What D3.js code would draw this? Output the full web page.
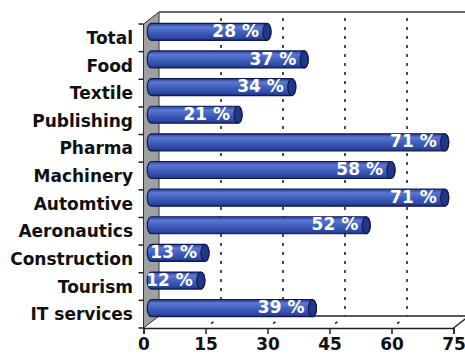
<!DOCTYPE html>
<html>
<head>
<meta charset="utf-8">
<script src="https://cdn.jsdelivr.net/npm/d3@7"></script>
<style>
  body { margin: 0; background: #fff; }
  svg text { font-family: "DejaVu Sans", Verdana, sans-serif; font-weight: bold; }
</style>
</head>
<body>
<script>
// data
var categories = ["Total", "Food", "Textile", "Publishing", "Pharma", "Machinery",
                  "Automtive", "Aeronautics", "Construction", "Tourism", "IT services"];
var shares = [28, 37, 34, 21, 71, 58, 71, 52, 13, 12, 39];
var tickValues = [0, 15, 30, 45, 60, 75];
var gridValues = [15, 30, 45, 60];

var w = 465, h = 356;
// 3d depth offset (front -> back)
var dx = 15.5, dy = -12;

var svg = d3.select("body").append("svg")
  .attr("width", w)
  .attr("height", h);

// front face scales
var x = d3.scaleLinear().domain([0, 75]).range([143.5, 453.5]);
var y = d3.scaleBand().domain(categories).range([24, 328]);

var front = { top: 24, bottom: 328 };

// bar gradient (cylinder look)
var defs = svg.append("defs");
var grad = defs.append("linearGradient")
  .attr("id", "cyl")
  .attr("x1", 0).attr("y1", 0).attr("x2", 0).attr("y2", 1);
grad.append("stop").attr("offset", "0%").attr("stop-color", "#2b3f96");
grad.append("stop").attr("offset", "22%").attr("stop-color", "#5a79d2");
grad.append("stop").attr("offset", "50%").attr("stop-color", "#4260be");
grad.append("stop").attr("offset", "85%").attr("stop-color", "#2e48a3");
grad.append("stop").attr("offset", "100%").attr("stop-color", "#1b2c78");

// back wall
svg.append("rect")
  .attr("x", x(0) + dx).attr("y", front.top + dy)
  .attr("width", w).attr("height", front.bottom - front.top)
  .attr("fill", "#fff");

svg.append("line")
  .attr("x1", x(0) + dx).attr("x2", w)
  .attr("y1", front.top + dy).attr("y2", front.top + dy)
  .attr("stroke", "#333").attr("stroke-width", 1.5);

// left wall
svg.append("polygon")
  .attr("points", [
    [x(0), front.top], [x(0) + dx, front.top + dy],
    [x(0) + dx, front.bottom + dy], [x(0), front.bottom]
  ].map(function(p) { return p.join(","); }).join(" "))
  .attr("fill", "#a0a0a0")
  .attr("stroke", "#333").attr("stroke-width", 1);

// dotted gridlines on back wall
svg.selectAll(".grid")
  .data(gridValues)
  .enter()
  .append("line")
  .attr("class", "grid")
  .attr("x1", function(d) { return x(d) + dx; })
  .attr("x2", function(d) { return x(d) + dx; })
  .attr("y1", front.top + dy + 6)
  .attr("y2", front.bottom + dy)
  .attr("stroke", "#222")
  .attr("stroke-width", 1.6)
  .attr("stroke-dasharray", "3,6");

// floor grid (dotted diagonals, only a dot shows)
svg.selectAll(".floorgrid")
  .data(gridValues)
  .enter()
  .append("line")
  .attr("class", "floorgrid")
  .attr("x1", function(d) { return x(d); })
  .attr("y1", front.bottom)
  .attr("x2", function(d) { return x(d) + dx; })
  .attr("y2", front.bottom + dy)
  .attr("stroke", "#222")
  .attr("stroke-width", 1.5)
  .attr("stroke-dasharray", "0,7,3,20");

// floor edges
svg.append("line")
  .attr("x1", x(0) + dx).attr("x2", w)
  .attr("y1", front.bottom + dy).attr("y2", front.bottom + dy)
  .attr("stroke", "#222").attr("stroke-width", 1.5);
svg.append("line")
  .attr("x1", x(75)).attr("y1", front.bottom)
  .attr("x2", x(75) + dx).attr("y2", front.bottom + dy)
  .attr("stroke", "#222").attr("stroke-width", 1.5);

// front x axis
var x_axis = d3.axisBottom(x)
  .tickValues(tickValues)
  .tickSize(6)
  .tickPadding(4);

var gx = svg.append("g")
  .attr("transform", "translate(0," + front.bottom + ")")
  .call(x_axis);
gx.select(".domain").attr("stroke", "#222").attr("stroke-width", 1.5);
gx.selectAll(".tick line").attr("stroke", "#222").attr("stroke-width", 1.5);
gx.selectAll(".tick text")
  .attr("font-size", 17)
  .attr("fill", "#111")
  .attr("font-family", "DejaVu Sans, sans-serif")
  .attr("font-weight", "bold");

// category ticks on left edge
var boundaries = d3.range(categories.length + 1).map(function(i) {
  return front.top + i * y.step();
});
svg.selectAll(".ctick")
  .data(boundaries)
  .enter()
  .append("line")
  .attr("class", "ctick")
  .attr("x1", x(0) - 5).attr("x2", x(0))
  .attr("y1", function(d) { return d; })
  .attr("y2", function(d) { return d; })
  .attr("stroke", "#222").attr("stroke-width", 1.5);

// category labels
svg.selectAll(".clabel")
  .data(categories)
  .enter()
  .append("text")
  .attr("class", "clabel")
  .attr("x", 133)
  .attr("y", function(d) { return y(d) + y.bandwidth() / 2; })
  .attr("dy", "0.36em")
  .attr("text-anchor", "end")
  .attr("font-size", 17)
  .attr("fill", "#111")
  .text(function(d) { return d; });

// bars sit half way into depth
var barH = 17, rx = 4;
function bx(v) { return x(v) + dx / 2; }
function by(c) { return y(c) + y.bandwidth() / 2 + dy / 2; }

var bars = svg.selectAll(".bar")
  .data(shares)
  .enter()
  .append("g")
  .attr("class", "bar");

bars.append("path")
  .attr("d", function(d, i) {
    var x0 = bx(0), x1 = bx(d), cy = by(categories[i]);
    var t = cy - barH / 2, b = cy + barH / 2;
    return "M" + x0 + "," + t + "L" + x1 + "," + t +
      "A" + rx + "," + barH / 2 + " 0 0 1 " + x1 + "," + b +
      "L" + x0 + "," + b +
      "A" + rx + "," + barH / 2 + " 0 0 1 " + x0 + "," + t + "Z";
  })
  .attr("fill", "url(#cyl)")
  .attr("stroke", "#0f1a55")
  .attr("stroke-width", 1.2);

bars.append("ellipse")
  .attr("cx", function(d) { return bx(d); })
  .attr("cy", function(d, i) { return by(categories[i]); })
  .attr("rx", rx)
  .attr("ry", barH / 2)
  .attr("fill", "#243786")
  .attr("stroke", "#0f1a55")
  .attr("stroke-width", 1.2);

bars.append("text")
  .attr("x", function(d) { return bx(d) - 8; })
  .attr("y", function(d, i) { return by(categories[i]) - 1; })
  .attr("dy", "0.36em")
  .attr("text-anchor", "end")
  .attr("font-size", 17)
  .attr("fill", "#fff")
  .text(function(d) { return d + " %"; });
</script>
</body>
</html>
